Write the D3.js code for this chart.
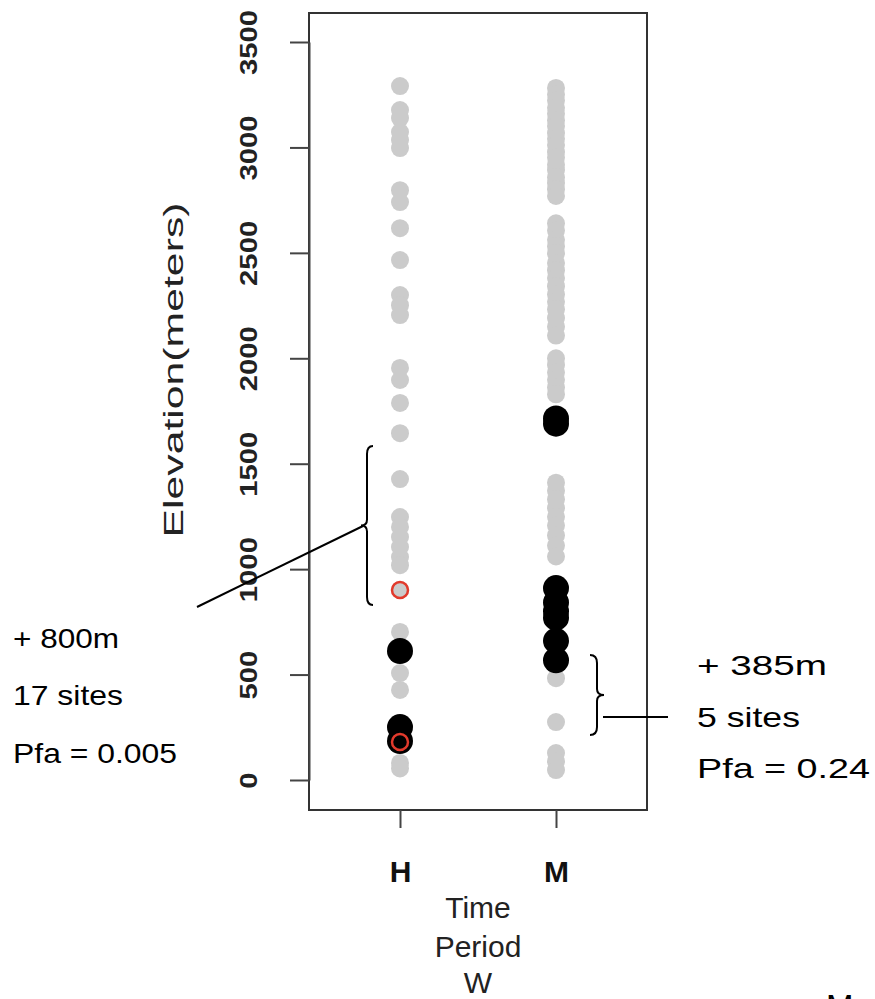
<!DOCTYPE html>
<html>
<head>
<meta charset="utf-8">
<script src="https://cdn.jsdelivr.net/npm/d3@7"></script>
<style>
  html, body { margin: 0; padding: 0; background: #fff; }
  svg { display: block; font-family: "Liberation Sans", Arial, sans-serif; }
</style>
</head>
<body>
<svg id="chart" width="875" height="999"></svg>
<script>
// ---------- data ----------
const categories = ["H", "M"];
const yTicks = [0, 500, 1000, 1500, 2000, 2500, 3000, 3500];
const hGray = [3291, 3177, 3139, 3073, 3035, 2997, 2797, 2741, 2617, 2466, 2300, 2252, 2205,
               1954, 1897, 1788, 1645, 1427, 1247, 1200, 1152, 1105, 1057, 1019, 901,
               702, 507, 427, 81, 55];
const hBlack = [612, 251, 185];
const hRed = [901, 180];
const mGray = [3282, 3251, 3222, 3188, 3160, 3128, 3102, 3068, 3041, 3012, 2978, 2952, 2918,
               2893, 2858, 2831, 2802, 2770, 2640, 2606, 2562, 2531, 2498, 2452, 2418, 2381,
               2342, 2303, 2268, 2232, 2191, 2150, 2108, 2000, 1968, 1932, 1898, 1862, 1829,
               1410, 1372, 1331, 1290, 1248, 1207, 1160, 1112, 1060, 483, 275, 128, 88, 47];
const mBlack = [1715, 1690, 910, 842, 800, 770, 660, 568];
const annLeft = ["+ 800m", "17 sites", "Pfa = 0.005"];
const annRight = ["+ 385m", "5 sites", "Pfa = 0.24"];
const xTitle = ["Time", "Period", "W"];
const yTitle = "Elevation(meters)";

// ---------- layout ----------
const box = { left: 309, top: 13, right: 647, bottom: 810 };
const svg = d3.select("#chart");

const x = d3.scalePoint().domain(categories).range([400, 556]);
const y = d3.scaleLinear().domain([0, 3500]).range([780, 42]);

// points
const g = svg.append("g");
function dots(vals, cat, r, fill) {
  g.append("g").selectAll("circle").data(vals).join("circle")
    .attr("cx", x(cat)).attr("cy", d => y(d)).attr("r", r).attr("fill", fill);
}
dots(hGray, "H", 9, "#cbcbcb");
dots(mGray, "M", 9, "#cbcbcb");
dots(hBlack, "H", 13, "#000");
dots(mBlack, "M", 13, "#000");
g.append("g").selectAll("circle").data(hRed).join("circle")
  .attr("cx", x("H")).attr("cy", d => y(d)).attr("r", 8)
  .attr("fill", "none").attr("stroke", "#e23a2c").attr("stroke-width", 2.5);

// box
svg.append("rect")
  .attr("x", box.left).attr("y", box.top)
  .attr("width", box.right - box.left).attr("height", box.bottom - box.top)
  .attr("fill", "none").attr("stroke", "#333").attr("stroke-width", 2);

// y axis
const yAxis = svg.append("g").attr("transform", `translate(${box.left},0)`)
  .call(d3.axisLeft(y).tickValues(yTicks).tickSize(19).tickSizeOuter(0).tickFormat(d3.format("d")));
yAxis.select(".domain").attr("stroke", "#444").attr("stroke-width", 2);
yAxis.selectAll(".tick line").attr("stroke", "#444").attr("stroke-width", 2);
yAxis.selectAll(".tick text")
  .attr("x", null).attr("dy", null)
  .attr("text-anchor", "middle")
  .attr("font-size", 24).attr("font-weight", "bold").attr("fill", "#222")
  .attr("font-family", "Liberation Sans, Arial, sans-serif")
  .attr("transform", "translate(-52,0) rotate(-90) scale(1.22,1)");

// x axis
const xAxis = svg.append("g").attr("transform", `translate(0,${box.bottom})`)
  .call(d3.axisBottom(x).tickSize(18).tickSizeOuter(0));
xAxis.select(".domain").remove();
xAxis.selectAll(".tick line").attr("stroke", "#444").attr("stroke-width", 2);
xAxis.selectAll(".tick text")
  .attr("y", 72).attr("dy", null)
  .attr("font-size", 30).attr("font-weight", "bold").attr("fill", "#111")
  .attr("font-family", "Liberation Sans, Arial, sans-serif");

// x title
const xMid = (x("H") + x("M")) / 2;
svg.append("g").selectAll("text").data(xTitle).join("text")
  .attr("x", xMid).attr("y", (d, i) => [918, 957, 993][i])
  .attr("text-anchor", "middle").attr("font-size", 30).attr("fill", "#222")
  .text(d => d);

// y title
svg.append("text")
  .attr("transform", `translate(183,370) rotate(-90)`)
  .attr("text-anchor", "middle").attr("font-size", 27).attr("fill", "#222")
  .attr("textLength", 335).attr("lengthAdjust", "spacingAndGlyphs")
  .text(yTitle);

// annotations
const leftLens = [106, 110, 164];
svg.append("g").selectAll("text").data(annLeft).join("text")
  .attr("x", 13).attr("y", (d, i) => [648, 705, 763][i])
  .attr("font-size", 28).attr("fill", "#000")
  .attr("textLength", (d, i) => leftLens[i]).attr("lengthAdjust", "spacingAndGlyphs")
  .text(d => d);
const rightLens = [130, 103, 173];
svg.append("g").selectAll("text").data(annRight).join("text")
  .attr("x", 697).attr("y", (d, i) => [675, 727, 778][i])
  .attr("font-size", 28).attr("fill", "#000")
  .attr("textLength", (d, i) => rightLens[i]).attr("lengthAdjust", "spacingAndGlyphs")
  .text(d => d);

// braces and leader lines
function leftBrace(xe, xt, y1, y2) {
  const ym = (y1 + y2) / 2, xs = (xe + xt) / 2;
  return `M${xe},${y1} Q${xs},${y1} ${xs},${y1 + 8} L${xs},${ym - 6} Q${xs},${ym} ${xt},${ym} ` +
         `Q${xs},${ym} ${xs},${ym + 6} L${xs},${y2 - 8} Q${xs},${y2} ${xe},${y2}`;
}
svg.append("path").attr("d", leftBrace(373, 361, 446, 605))
  .attr("fill", "none").attr("stroke", "#000").attr("stroke-width", 2);
svg.append("path").attr("d", leftBrace(590, 604, 655, 735))
  .attr("fill", "none").attr("stroke", "#000").attr("stroke-width", 2);
svg.append("line").attr("x1", 197).attr("y1", 607).attr("x2", 363).attr("y2", 526)
  .attr("stroke", "#000").attr("stroke-width", 2);
svg.append("line").attr("x1", 603).attr("y1", 717).attr("x2", 668).attr("y2", 717)
  .attr("stroke", "#000").attr("stroke-width", 2);

// cut-off letter at bottom right (partly outside the frame, as in the reference)
svg.append("text").attr("x", 826).attr("y", 1018).attr("font-size", 33).attr("fill", "#000").text("M");
</script>
</body>
</html>
